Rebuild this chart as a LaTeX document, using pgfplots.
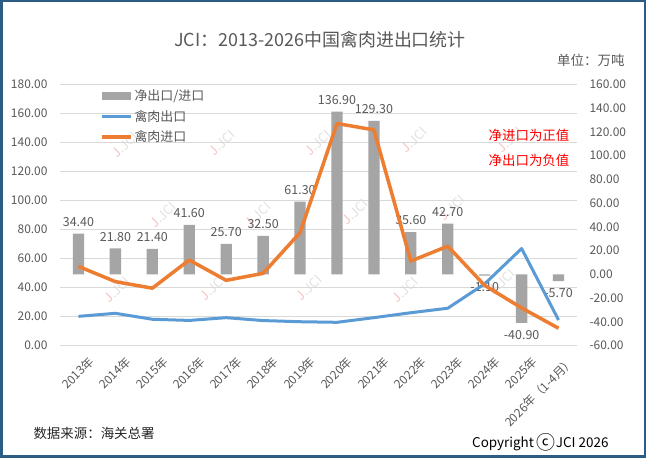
\documentclass[border=0pt]{standalone}
\usepackage{fontspec}
\setmainfont{Noto Sans CJK SC}
\usepackage{pgfplots}
\usepackage{pgfplotstable}
\pgfplotsset{compat=1.18}
\definecolor{txt}{HTML}{595959}
\definecolor{gridc}{HTML}{D9D9D9}
\definecolor{barc}{HTML}{A5A5A5}
\definecolor{bluec}{HTML}{5B9BD5}
\definecolor{orangec}{HTML}{ED7D31}
\definecolor{framec}{HTML}{2A5C86}
\definecolor{wmred}{HTML}{F6C4C4}
\definecolor{wmgray}{HTML}{E2E2E2}

\pgfplotstableread{
x imp exp net
0 54.6 20.2 34.4
1 44.1 22.3 21.8
2 39.6 18.2 21.4
3 59.0 17.4 41.6
4 45.0 19.3 25.7
5 49.8 17.3 32.5
6 77.8 16.5 61.3
7 153.0 16.1 136.9
8 148.6 19.3 129.3
9 58.3 22.7 35.6
10 68.5 25.8 42.7
11 41.5 42.6 -1.1
12 26.0 66.9 -40.9
13 12.0 17.7 -5.7
}\data

\begin{document}
\begin{tikzpicture}[x=1bp,y=1bp]
\fill[white] (0,0) rectangle (646,458);
% watermarks
\foreach \px/\py in {125/145,222/143,318/143,414/140,510/140,163/215,258/215,355/212,452/208,117/290,213/288,309/288,405/290,502/282}{
  \node[rotate=45, font=\fontsize{13}{13}\selectfont] at ({\px},{458-\py}) {\textcolor{wmred}{J}\textcolor{wmgray}{.JCI}};
}

% bars on the right axis
\begin{axis}[
  at={(60bp,112.3bp)}, anchor=south west,
  width=517bp, height=261.4bp, scale only axis,
  xmin=-0.5, xmax=13.5, ymin=-60, ymax=160,
  hide x axis,
  axis y line*=right,
  y axis line style={draw=none},
  major tick length=0pt,
  ytick={-60,-40,...,160},
  yticklabel style={font=\fontsize{12}{12}\selectfont, text=txt, xshift=9bp,
    /pgf/number format/.cd, fixed, fixed zerofill, precision=2, assume math mode=true},
  extra y ticks={-60,-35.5556,-11.1111,13.3333,37.7778,62.2222,86.6667,111.1111,135.5556,160},
  extra y tick labels={},
  extra y tick style={grid=major, major grid style={gridc, line width=0.8bp}},
  ybar, bar width=11.3bp,
  nodes near coords={\pgfmathprintnumber[fixed,fixed zerofill,precision=2,assume math mode=true]{\pgfplotspointmeta}},
  every node near coord/.append style={font=\fontsize{12.5}{12.5}\selectfont, text=txt, inner ysep=7bp},
  legend style={draw=none, fill=none, at={(0.078,0.985)}, anchor=north west,
    font=\fontsize{13}{13}\selectfont, text=txt, row sep=5bp, inner sep=0pt,
    nodes={inner sep=1.5bp}},
  legend cell align=left,
]
\addplot[fill=barc, draw=none,
  legend image code/.code={\fill[barc] (0bp,-4bp) rectangle (29bp,4bp);}]
  table[x=x, y=net]{\data};
\addlegendentry{净出口/进口}
\addlegendimage{legend image code/.code={\draw[bluec, line width=3bp] (0bp,0bp) -- (29bp,0bp);}}
\addlegendentry{禽肉出口}
\addlegendimage{legend image code/.code={\draw[orangec, line width=3.5bp] (0bp,0bp) -- (29bp,0bp);}}
\addlegendentry{禽肉进口}
\end{axis}

% lines on the left axis
\begin{axis}[
  at={(60bp,112.3bp)}, anchor=south west,
  width=517bp, height=261.4bp, scale only axis,
  xmin=-0.5, xmax=13.5, ymin=0, ymax=180,
  axis y line*=left, axis x line*=bottom,
  axis line style={draw=none},
  major tick length=0pt,
  ytick={0,20,...,180},
  yticklabel style={font=\fontsize{12}{12}\selectfont, text=txt, xshift=-9bp,
    /pgf/number format/.cd, fixed, fixed zerofill, precision=2, assume math mode=true},
  xtick={0,...,13},
  xticklabels={2013年,2014年,2015年,2016年,2017年,2018年,2019年,2020年,2021年,2022年,2023年,2024年,2025年,2026年（1-4月）},
  x tick label style={rotate=45, anchor=north east, font=\fontsize{12}{12}\selectfont, text=txt, yshift=-10bp, xshift=3bp},
]
\addplot[bluec, line width=3bp, line join=round, no marks] table[x=x, y=exp]{\data};
\addplot[orangec, line width=3.5bp, line join=round, no marks] table[x=x, y=imp]{\data};
\end{axis}

\node[font=\fontsize{18}{18}\selectfont, text=txt] at (320,418) {JCI：2013-2026中国禽肉进出口统计};
\node[anchor=east, font=\fontsize{13.5}{13.5}\selectfont, text=txt] at (628,398) {单位：万吨};
\node[font=\fontsize{13.5}{13.5}\selectfont, text=red] at (529,323) {净进口为正值};
\node[font=\fontsize{13.5}{13.5}\selectfont, text=red] at (529,298) {净出口为负值};
\node[anchor=west, font=\fontsize{13.5}{13.5}\selectfont, text=black!85] at (30,25) {数据来源：海关总署};
\node[anchor=east, font=\fontsize{13.5}{13.5}\selectfont, text=black] at (612,16) {Copyright \raisebox{-1.5bp}{\fontsize{19}{19}\selectfont ⓒ}JCI 2026};
\draw[framec, line width=2.5bp] (1.25,1.25) rectangle (644.75,456.75);
\end{tikzpicture}
\end{document}
